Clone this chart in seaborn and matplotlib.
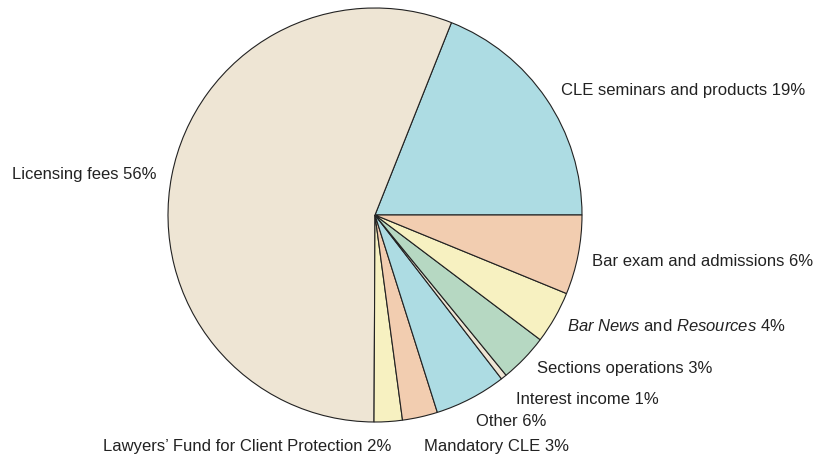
import numpy as np
import seaborn as sns
import matplotlib
matplotlib.use("Agg")
import matplotlib.pyplot as plt

# slice sizes (percent), counter-clockwise from 3 o'clock
categories = ["CLE seminars and products", "Licensing fees",
              "Lawyers\u2019 Fund for Client Protection", "Mandatory CLE",
              "Other", "Interest income", "Sections operations",
              "Bar News and Resources", "Bar exam and admissions"]
shares = [19.0, 56.0, 2.2, 2.75, 5.6, 0.45, 3.8, 4.1, 6.2]
label_texts = ["CLE seminars and products 19%",
               "Licensing fees 56%",
               "Lawyers\u2019 Fund for Client Protection 2%",
               "Mandatory CLE 3%",
               "Other 6%",
               "Interest income 1%",
               "Sections operations 3%",
               r"$\it{Bar\ News}$ and $\it{Resources}$ 4%",
               "Bar exam and admissions 6%"]

blue = "#ADDCE3"
beige = "#EEE5D4"
peach = "#F2CDB0"
yellow = "#F7F1C1"
green = "#B6D8C2"
colors = [blue, beige, yellow, peach, blue, beige, green, yellow, peach]

sns.set_style("white")
plt.rcParams['font.family'] = ['Liberation Sans', 'DejaVu Sans']
plt.rcParams['mathtext.fontset'] = 'custom'
plt.rcParams['mathtext.rm'] = 'Liberation Sans'
plt.rcParams['mathtext.it'] = 'Liberation Sans:italic'

W, H = 823, 459
cx, cy, r = 375, 215, 207

fig = plt.figure(figsize=(W / 100, H / 100), dpi=100)
ax = fig.add_axes([(cx - r) / W, (H - cy - r) / H, 2 * r / W, 2 * r / H])
ax.pie(shares, colors=colors, startangle=0, counterclock=True, radius=1,
       wedgeprops=dict(edgecolor="#222222", linewidth=0.8))
ax.set_xlim(-1, 1)
ax.set_ylim(-1, 1)
ax.set_aspect("equal")
ax.axis("off")

# label anchors in pixels (left edge, vertical centre)
label_pos = [(561, 91), (12, 175), (103, 447), (424, 447), (476, 422),
             (516, 399), (537, 369), (567, 326), (592, 261)]
for txt, (px, py) in zip(label_texts, label_pos):
    fig.text(px / W, 1 - py / H, txt, ha="left", va="center",
             fontsize=12, color="#222222")

fig.savefig("out.png", dpi=100)
